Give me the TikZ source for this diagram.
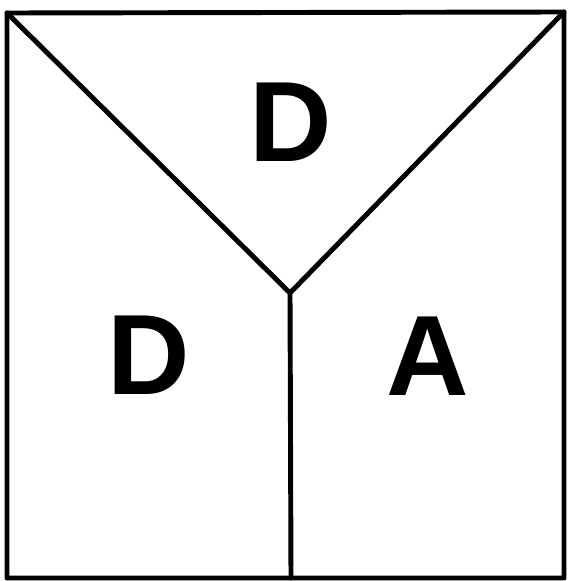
\documentclass[tikz,border=0pt]{standalone}
\usepackage{fontspec}
\setmainfont{Liberation Sans}
\usetikzlibrary{positioning}

\begin{document}
\begin{tikzpicture}[x=0.02cm, y=-0.02cm,
        rule/.style={line width=2.8pt, black, line cap=round, line join=round},
        letter/.style={inner sep=0pt, font=\fontsize{65}{65}\selectfont\bfseries},
    ]
    \useasboundingbox (0,0) rectangle (570,581);

    % Rahmen und Y
    \coordinate (tl) at (7,13);
    \coordinate (tr) at (564,12);
    \coordinate (bl) at (7,578);
    \coordinate (br) at (564,578);
    \coordinate (mid) at (290,293);
    \coordinate (bm) at (291,578);
    \draw[rule] (tl) -- (tr) -- (br) -- (bl) -- cycle;
    \draw[rule] (tl) -- (mid);
    \draw[rule] (tr) -- (mid);
    \draw[rule] (mid) -- (bm);

    % Buchstaben
    \node[letter] (dtop) at (291,122) {D};
    \node[letter] (dleft) at (149,355) {D};
    \node[letter] (aright) at (428,356) {A};
\end{tikzpicture}
\end{document}
